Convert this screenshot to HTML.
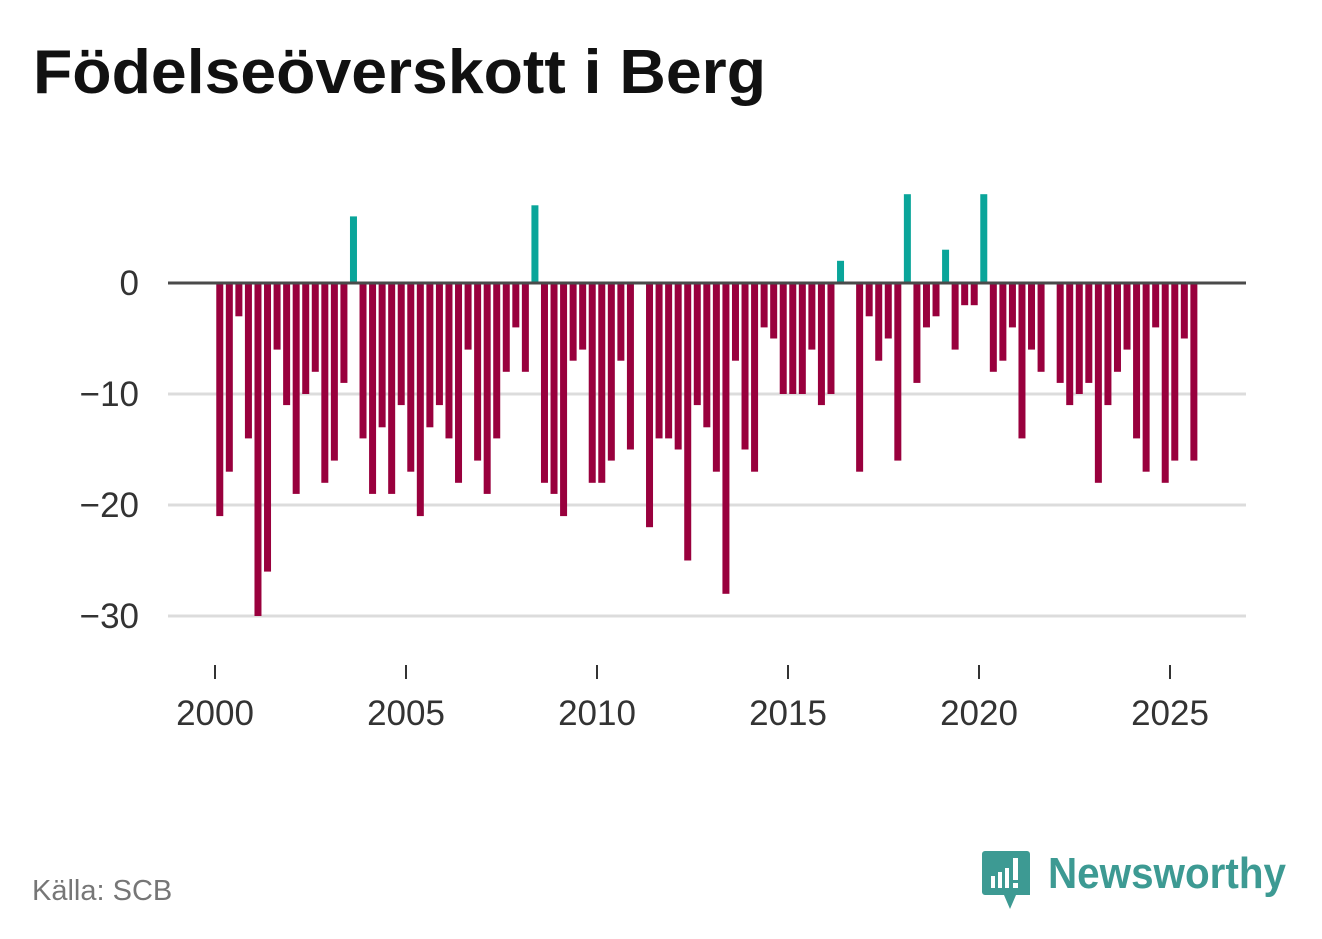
<!DOCTYPE html>
<html><head><meta charset="utf-8"><style>
body{margin:0;background:#fff;}
svg{display:block;font-family:"Liberation Sans",sans-serif;}
</style></head><body>
<svg id="chart" width="1322" height="939" viewBox="0 0 1322 939">
<text x="33" y="93" font-size="62" font-weight="bold" fill="#111" textLength="733" lengthAdjust="spacingAndGlyphs">Födelseöverskott i Berg</text>
<g id="grid"></g>
<g id="bars"></g>
<g id="xaxis"></g>
<g id="yaxis"></g>
<text x="32" y="900" font-size="29" fill="#767676">Källa: SCB</text>
<g>
<path d="M985 851 h42 a3 3 0 0 1 3 3 v41 h-14 l-6 14 l-6 -14 h-19 a3 3 0 0 1 -3 -3 v-38 a3 3 0 0 1 3 -3z" fill="#3d9a93"/>
<rect x="991" y="876" width="4" height="12" fill="#fff"/><rect x="998" y="872" width="4" height="16" fill="#fff"/><rect x="1005" y="868" width="4" height="20" fill="#fff"/><rect x="1013" y="858" width="5" height="22" fill="#fff"/><rect x="1013" y="883" width="5" height="5" fill="#fff"/>
<text x="1048" y="888" font-size="44" font-weight="bold" fill="#3d9a93" textLength="238" lengthAdjust="spacingAndGlyphs">Newsworthy</text>
</g>
</svg>
<script>
const years = [2000,2005,2010,2015,2020,2025];
const yTicks = [0,-10,-20,-30];
const yTickLabels = ["0","\u221210","\u221220","\u221230"];
const startYear = 2000;
const values = [
-21,-17,-3,-14, -30,-26,-6,-11, -19,-10,-8,-18, -16,-9,6,-14,
-19,-13,-19,-11, -17,-21,-13,-11, -14,-18,-6,-16, -19,-14,-8,-4,
-8,7,-18,-19, -21,-7,-6,-18, -18,-16,-7,-15, 0,-22,-14,-14,
-15,-25,-11,-13, -17,-28,-7,-15, -17,-4,-5,-10, -10,-10,-6,-11,
-10,2,0,-17, -3,-7,-5,-16, 8,-9,-4,-3, 3,-6,-2,-2,
8,-8,-7,-4, -14,-6,-8,0, -9,-11,-10,-9, -18,-11,-8,-6,
-14,-17,-4,-18, -16,-5,-16
];
const NS="http://www.w3.org/2000/svg";
const x = t => 215 + (t-2000)*38.2;
const y = v => 283 - v*11.1;
const grid=document.getElementById('grid'), bars=document.getElementById('bars'), xa=document.getElementById('xaxis'), ya=document.getElementById('yaxis');
function mk(tag,attrs,parent){const e=document.createElementNS(NS,tag);for(const k in attrs)e.setAttribute(k,attrs[k]);parent.appendChild(e);return e;}
yTicks.forEach((v,i)=>{
  if(v!==0){const l=mk('line',{x1:168,x2:1246,y1:y(v),y2:y(v),stroke:'#dcdcdc','stroke-width':3},grid);
  
  }
  const t=mk('text',{x:139,y:y(v)+12,'font-size':35,fill:'#333','text-anchor':'end'},ya);
  t.textContent=yTickLabels[i];
  
  
});
values.forEach((v,i)=>{
  const cx=x(startYear+i/4+0.125);
  const top=Math.min(y(v),y(0)), h=Math.abs(y(v)-y(0));
  const r=mk('rect',{x:cx-3.5,y:top,width:7,height:h,fill:v>=0?'#0aa59a':'#99003d'},bars);
  
  
});
const zl=mk('line',{x1:168,x2:1246,y1:y(0),y2:y(0),stroke:'#4a4a4a','stroke-width':3},bars);


years.forEach(yr=>{
  const tk=mk('line',{x1:x(yr),x2:x(yr),y1:665,y2:679,stroke:'#333','stroke-width':2},xa);
  
  
  const t=mk('text',{x:x(yr),y:725,'font-size':35,fill:'#333','text-anchor':'middle'},xa);
  t.textContent=yr;
  
  
});
</script>
</body></html>
